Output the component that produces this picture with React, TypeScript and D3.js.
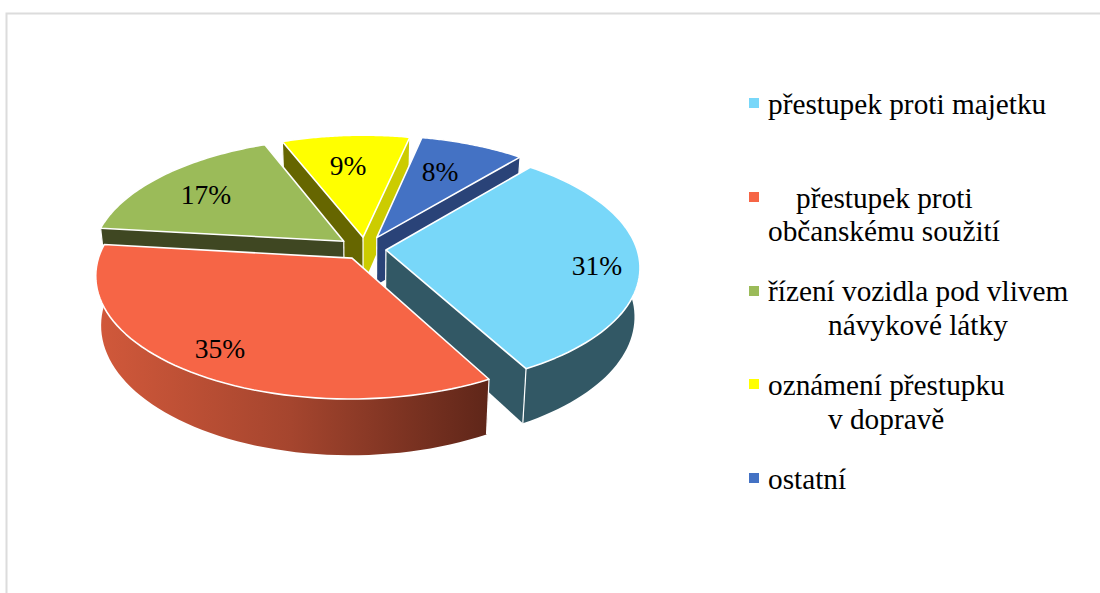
import React from "react";
import * as d3 from "d3";

const categories = ["přestupek proti majetku", "přestupek proti občanskému soužití", "řízení vozidla pod vlivem návykové látky", "oznámení přestupku v dopravě", "ostatní"];
const values = [30.9, 34.8, 17.2, 9.4, 7.7];
const valueLabels = ["31%", "35%", "17%", "9%", "8%"];
const topColors = ["#78D7F9", "#F66546", "#9BBB59", "#FFFF00", "#4472C4"];
const startWallColors = ["#325865", "#5F2619", "#3F4722", "#666600", "#2A4378"];
const endWallColors = ["#325865", "#5F2619", "#3F4722", "#CCCC00", "#2A4378"];
const explode = [21, 23, 27, 25, 27];
const drawOrder = [3, 2, 4, 0, 1];
const frontSlices = [0, 1];
const legendLines = [
  [{ t: "přestupek proti majetku", x: 768, y: 114 }],
  [{ t: "přestupek proti", x: 796, y: 208 }, { t: "občanskému soužití", x: 768, y: 241 }],
  [{ t: "řízení vozidla pod vlivem", x: 768, y: 301 }, { t: "návykové látky", x: 828, y: 335 }],
  [{ t: "oznámení přestupku", x: 768, y: 395 }, { t: "v dopravě", x: 828, y: 429 }],
  [{ t: "ostatní", x: 768, y: 489 }],
];
const swatchY = [103, 197, 291, 384, 478];
const labelPos = [[597, 275], [220, 358], [206, 204], [348, 175], [440, 181]];

const W = 1100, H = 593;
const cx = 365, cy = 249, R = 251, kR = 119, persp = 0.136, depth = 48;
const startDeg = 40;

// ground (X right, Y toward viewer, radius units) -> screen; z drops below the top face
function project(X: number, Y: number, z = 0): [number, number] {
  const s = 1 / (1 - persp * Y);
  const shrink = 1 - 0.02 * (z / depth);
  return [cx + R * X * s * shrink, cy + kR * Y * s + z * s];
}

const pie = d3.pie<number>().sort(null)
  .startAngle((startDeg * Math.PI) / 180)
  .endAngle((startDeg * Math.PI) / 180 + 2 * Math.PI);
const arcs = pie(values);
const line = d3.line();

function sliceGeom(i: number) {
  const a = arcs[i];
  const mid = (a.startAngle + a.endAngle) / 2;
  const e = explode[i] / R;
  const ox = e * Math.sin(mid), oy = -e * Math.cos(mid);
  const n = 60;
  const angles = d3.range(n + 1).map((j) => a.startAngle + ((a.endAngle - a.startAngle) * j) / n);
  const rim = (z: number) => angles.map((t) => project(ox + Math.sin(t), oy - Math.cos(t), z));
  const apex = (z: number) => project(ox, oy, z);
  return { rim, apex };
}

const edge = { stroke: "#fff", strokeWidth: 1.6, strokeLinejoin: "round" as const };

function Slice({ i }: { i: number }) {
  const g = sliceGeom(i);
  const top = g.rim(0), bot = g.rim(depth);
  const a0 = g.apex(0), a1 = g.apex(depth);
  const n = top.length - 1;
  const outer = [...top, ...bot.slice().reverse()] as [number, number][];
  const wallStart = [a0, top[0], bot[0], a1] as [number, number][];
  const wallEnd = [a0, top[n], bot[n], a1] as [number, number][];
  const outerFill = i === 1 ? "url(#redWall)" : endWallColors[i];
  const startFirst = top[0][1] < top[n][1];
  const walls = startFirst
    ? [[wallStart, startWallColors[i]], [wallEnd, endWallColors[i]]]
    : [[wallEnd, endWallColors[i]], [wallStart, startWallColors[i]]];
  const verticals = [[a0, a1], [top[0], bot[0]], [top[n], bot[n]]] as [number, number][][];
  const outerPath = <path d={line(outer)! + "Z"} fill={outerFill} />;
  const isFront = frontSlices.includes(i);
  return (
    <g>
      {!isFront && outerPath}
      {walls.map(([p, c], k) => <path key={k} d={line(p as [number, number][])! + "Z"} fill={c as string} />)}
      {isFront && outerPath}
      {verticals.map((v, k) => <path key={k} d={line(v)!} fill="none" {...edge} strokeWidth={1.2} />)}
      <path d={line([a0, ...top] as [number, number][])! + "Z"} fill={topColors[i]} {...edge} />
    </g>
  );
}

export default function App() {
  return (
    <svg width={W} height={H} style={{ position: "absolute", left: 0, top: 0, background: "#fff" }}>
      <defs>
        <linearGradient id="redWall" x1="94" x2="488" y1="0" y2="0" gradientUnits="userSpaceOnUse">
          <stop offset="0" stopColor="#D2593B" />
          <stop offset="0.5" stopColor="#A5452E" />
          <stop offset="1" stopColor="#5F2619" />
        </linearGradient>
      </defs>
      <path d={`M6.5 ${H} V13.5 H${W}`} fill="none" stroke="#DCDCDC" strokeWidth={2} />
      {drawOrder.map((i) => <Slice key={i} i={i} />)}
      <g fontFamily="'Liberation Serif', serif" fill="#000">
        {valueLabels.map((t, i) => (
          <text key={t} x={labelPos[i][0]} y={labelPos[i][1]} textAnchor="middle" fontSize={27.5}>{t}</text>
        ))}
        {categories.map((c, i) => (
          <g key={c}>
            <rect x={749} y={swatchY[i] - 5} width={10} height={10} fill={topColors[i]} />
            {legendLines[i].map((l) => <text key={l.t} x={l.x} y={l.y} fontSize={29.3}>{l.t}</text>)}
          </g>
        ))}
      </g>
    </svg>
  );
}
